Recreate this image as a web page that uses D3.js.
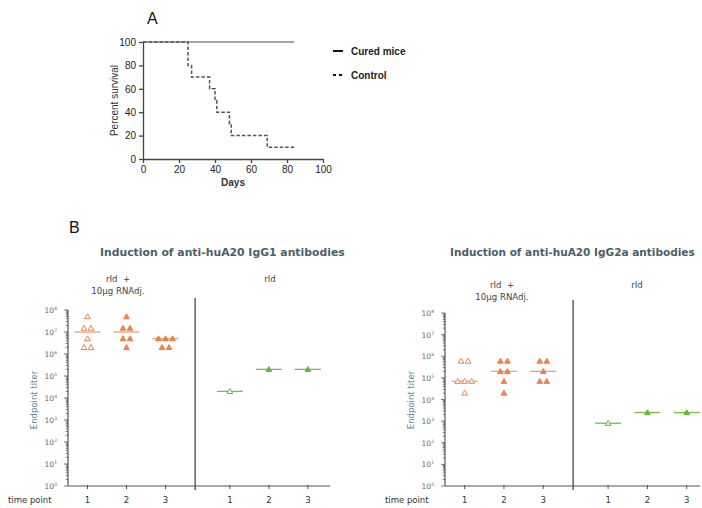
<!DOCTYPE html>
<html>
<head>
<meta charset="utf-8">
<script src="https://cdn.jsdelivr.net/npm/d3@7"></script>
<style>
  body { margin: 0; background: #fff; }
  svg { display: block; }
  .surv text { font-family: "Liberation Sans", Arial, sans-serif; }
  .titer text { font-family: "DejaVu Sans", Verdana, sans-serif; }
</style>
</head>
<body>
<svg id="chart" width="702" height="508"></svg>
<script>
// ---- Panel A: survival ----
const controlDays = [0, 25, 27, 37, 40, 41, 48, 49, 69, 84];
const controlSurv = [100, 80, 70, 60, 50, 40, 30, 20, 10, 10];
const curedDays = [0, 84];
const curedSurv = [100, 100];
const survTicksX = [0, 20, 40, 60, 80, 100];
const survTicksY = [0, 20, 40, 60, 80, 100];
const legendNames = ["Cured mice", "Control"];

// ---- Panel B: endpoint titers ----
const timePoints = ["1", "2", "3"];
const groupNames = ["rId  +", "10µg RNAdj.", "rId"];
const igg1Adj = [
  [5e7, 1.5e7, 1.5e7, 5e6, 2e6, 2e6],
  [5e7, 1.5e7, 1.5e7, 5e6, 5e6, 2e6],
  [5e6, 5e6, 5e6, 2e6, 2e6]
];
const igg1Rid = [[2e4], [2e5], [2e5]];
const igg2aAdj = [
  [6e5, 6e5, 7e4, 7e4, 7e4, 2e4],
  [6e5, 6e5, 2e5, 2e5, 7e4, 2e4],
  [6e5, 6e5, 2e5, 7e4, 7e4]
];
const igg2aRid = [[8e2], [2.5e3], [2.5e3]];
const titerExps = [0, 1, 2, 3, 4, 5, 6, 7, 8];

const svg = d3.select("#chart");

// panel letters
svg.append("text").attr("x", 147).attr("y", 24)
  .style("font-family", "Liberation Sans, Arial, sans-serif").style("font-size", "16px").attr("fill", "#111")
  .text("A");
svg.append("text").attr("x", 69).attr("y", 233)
  .style("font-family", "Liberation Sans, Arial, sans-serif").style("font-size", "16px").attr("fill", "#111")
  .text("B");

//----- survival plot -----
function drawSurvival(){
    let g = svg.append("g").classed("surv", true);
    let x = d3.scaleLinear().domain([0, 100]).range([143, 323]);
    let y = d3.scaleLinear().domain([0, 100]).range([159, 42]);

    let xAxis = g.append("g").attr("transform", "translate(0," + y(0) + ")")
        .call(d3.axisBottom(x).tickValues(survTicksX).tickSize(4).tickSizeOuter(0));
    let yAxis = g.append("g").attr("transform", "translate(" + x(0) + ",0)")
        .call(d3.axisLeft(y).tickValues(survTicksY).tickSize(4).tickSizeOuter(0));
    [xAxis, yAxis].forEach(a=>{
        a.selectAll("path, line").attr("stroke", "#444").attr("stroke-width", 1.3);
        a.selectAll("text").attr("fill", "#222").style("font-size", "10px");
    });

    let line = d3.line()
        .x(d=>x(d[0]))
        .y(d=>y(d[1]))
        .curve(d3.curveStepAfter);

    g.append("path")
        .attr("d", line(curedDays.map((d,i)=>[d, curedSurv[i]])))
        .attr("fill", "none").attr("stroke", "#8a8a8a").attr("stroke-width", 1.6);
    g.append("path")
        .attr("d", line(controlDays.map((d,i)=>[d, controlSurv[i]])))
        .attr("fill", "none").attr("stroke", "#555").attr("stroke-width", 1.5)
        .attr("stroke-dasharray", "3.5,2");

    g.append("text").attr("x", (x(0)+x(100))/2).attr("y", 186)
        .attr("text-anchor", "middle").style("font-size", "10px").style("font-weight", "bold")
        .attr("fill", "#333").text("Days");
    g.append("text").attr("transform", "translate(118," + ((y(0)+y(100))/2) + ") rotate(-90)")
        .attr("text-anchor", "middle").style("font-size", "10px").attr("fill", "#333")
        .text("Percent survival");

    // legend
    let leg = g.selectAll(".leg").data(legendNames).join("g")
        .attr("transform", (d,i)=>"translate(333," + (51 + i*24) + ")");
    leg.append("line").attr("x1", 0).attr("x2", 10)
        .attr("stroke", "#111").attr("stroke-width", 2)
        .attr("stroke-dasharray", (d,i)=>i==1 ? "3,3" : null);
    leg.append("text").attr("x", 18).attr("y", 4)
        .style("font-size", "10px").style("font-weight", "bold").attr("fill", "#222")
        .text(d=>d);
}

//----- titer plot -----
function drawTiter(cfg){
    let g = svg.append("g").classed("titer", true);
    let slots = [1, 2, 3, 4.65, 5.65, 6.65];
    let x = d3.scaleLinear().domain([0.5, 1.5]).range([cfg.x0, cfg.x0 + cfg.step]);
    let y = d3.scaleLog().domain([1, 1e8]).range([cfg.yBottom, cfg.yTop]);
    let sepX = x(3.76);

    // title (fit to width)
    let title = g.append("text").attr("x", cfg.titleX).attr("y", 256)
        .style("font-size", "11px").style("font-weight", "bold").attr("fill", "#4a5f69")
        .text(cfg.title);
    let w = title.node().getComputedTextLength();
    title.style("font-size", (11 * cfg.titleW / w) + "px");

    // group headings
    let headY = cfg.headY;
    g.append("text").attr("x", cfg.headX).attr("y", headY).attr("text-anchor", "middle")
        .style("font-size", "8.6px").style("white-space", "pre").attr("fill", "#444").text(groupNames[0]);
    g.append("text").attr("x", cfg.headX).attr("y", headY + 12).attr("text-anchor", "middle")
        .style("font-size", "8.6px").attr("fill", "#444").text(groupNames[1]);
    g.append("text").attr("x", cfg.ridX).attr("y", headY).attr("text-anchor", "middle")
        .style("font-size", "8.6px").attr("fill", "#444").text(groupNames[2]);

    // y axis with minor ticks
    let axisCol = "#555";
    g.append("line").attr("x1", x(0.5)).attr("x2", x(0.5))
        .attr("y1", y(1e8)).attr("y2", y(1)).attr("stroke", axisCol).attr("stroke-width", 1.2);
    let allTicks = y.ticks();
    g.selectAll(".ytick").data(allTicks).join("line")
        .attr("x1", x(0.5)).attr("x2", d=>x(0.5) - (Math.abs(Math.log10(d) - Math.round(Math.log10(d))) < 1e-9 ? 4 : 2.2))
        .attr("y1", d=>y(d)).attr("y2", d=>y(d))
        .attr("stroke", axisCol).attr("stroke-width", 0.8);
    let lab = g.selectAll(".ylab").data(titerExps).join("text")
        .attr("x", x(0.5) - 11).attr("y", d=>y(Math.pow(10, d)) + 3)
        .attr("text-anchor", "end").style("font-size", "7.5px").attr("fill", "#666");
    lab.append("tspan").text("10");
    lab.append("tspan").attr("dy", -3).style("font-size", "4.5px").text(d=>d);

    g.append("text").attr("transform", "translate(" + cfg.ylabX + "," + cfg.ylabY + ") rotate(-90)")
        .attr("text-anchor", "middle").style("font-size", "8.5px").attr("fill", "#5d8796")
        .text("Endpoint titer");

    // x axis
    g.append("line").attr("x1", x(0.5)).attr("x2", cfg.xEnd)
        .attr("y1", y(1)).attr("y2", y(1)).attr("stroke", axisCol).attr("stroke-width", 1.2);
    g.selectAll(".xtick").data(slots).join("line")
        .attr("x1", d=>x(d)).attr("x2", d=>x(d))
        .attr("y1", y(1) - 1).attr("y2", y(1) + 3)
        .attr("stroke", axisCol).attr("stroke-width", 1);
    g.selectAll(".xlab").data(slots).join("text")
        .attr("x", d=>x(d)).attr("y", y(1) + 17).attr("text-anchor", "middle")
        .style("font-size", "8.5px").attr("fill", "#333")
        .text((d,i)=>timePoints[i % 3]);
    g.append("text").attr("x", cfg.tpX).attr("y", y(1) + 17)
        .style("font-size", "8.5px").attr("fill", "#333").text("time point");

    // separator
    g.append("line").attr("x1", sepX).attr("x2", sepX)
        .attr("y1", cfg.sepTop).attr("y2", y(1) + 4)
        .attr("stroke", "#555").attr("stroke-width", 1.4);

    // groups: adjuvant (orange) then rId (green)
    let groups = [];
    cfg.adj.forEach((vals,i)=>groups.push({slot: slots[i], vals: vals, open: i==0, col: "#e8763c", mcol: "#f2a06e"}));
    cfg.rid.forEach((vals,i)=>groups.push({slot: slots[i+3], vals: vals, open: i==0, col: "#5fae2a", mcol: "#72c143"}));

    let tri = d3.symbol().type(d3.symbolTriangle).size(14);
    groups.forEach(gr=>{
        let med = d3.median(gr.vals);
        let cx = x(gr.slot);
        g.append("line").attr("x1", cx - 13).attr("x2", cx + 13)
            .attr("y1", y(med)).attr("y2", y(med))
            .attr("stroke", gr.mcol).attr("stroke-width", 1.3);
        // spread equal values side by side
        let counts = d3.rollup(gr.vals, v=>v.length, d=>d);
        let pts = [];
        counts.forEach((n, v)=>{
            for(let k = 0; k < n; k++){
                pts.push({v: v, dx: (k - (n-1)/2) * 7});
            }
        });
        g.selectAll(null).data(pts).join("path")
            .attr("d", tri)
            .attr("transform", d=>"translate(" + (cx + d.dx) + "," + (y(d.v) + 0.5) + ")")
            .attr("fill", gr.open ? "#fff" : gr.col)
            .attr("fill-opacity", gr.open ? 1 : 0.85)
            .attr("stroke", gr.col).attr("stroke-width", 0.9);
    });
}

drawSurvival();
drawTiter({title: "Induction of anti-huA20 IgG1 antibodies", titleX: 100, titleW: 245,
    x0: 68, step: 39, yBottom: 486, yTop: 310, xEnd: 330, sepTop: 298, headY: 282,
    headX: 118, ridX: 270,
    ylabX: 37, ylabY: 400, tpX: 8, adj: igg1Adj, rid: igg1Rid});
drawTiter({title: "Induction of anti-huA20 IgG2a antibodies", titleX: 450, titleW: 245,
    x0: 445, step: 39.3, yBottom: 486, yTop: 313, xEnd: 700, sepTop: 300, headY: 288,
    headX: 502, ridX: 637,
    ylabX: 414, ylabY: 400, tpX: 385, adj: igg2aAdj, rid: igg2aRid});
</script>
</body>
</html>
